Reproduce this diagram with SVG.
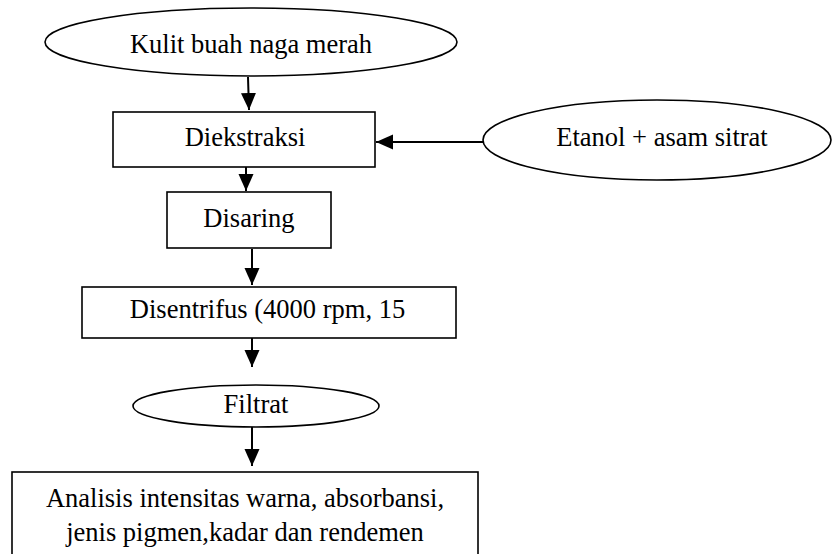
<svg xmlns="http://www.w3.org/2000/svg" width="832" height="554" viewBox="0 0 832 554">
<style>
.shape{fill:#fff;stroke:#000;stroke-width:1.6}
.t{font-family:"Liberation Serif","Times New Roman",serif;font-size:26.5px;fill:#000;text-anchor:middle}
.c{stroke:#000;stroke-width:2;fill:none}
</style>
<defs>
<marker id="ah" markerUnits="userSpaceOnUse" markerWidth="18" markerHeight="16" refX="17" refY="7.5" orient="auto">
<path d="M0,0 L17,7.5 L0,15 Z" fill="#000"/>
</marker>
</defs>
<rect width="832" height="554" fill="#fff"/>
<g id="connectors">
<line class="c" x1="248" y1="77" x2="249" y2="110" marker-end="url(#ah)"/>
<line class="c" x1="246" y1="167" x2="246" y2="191" marker-end="url(#ah)"/>
<line class="c" x1="252" y1="249" x2="252" y2="285" marker-end="url(#ah)"/>
<line class="c" x1="252" y1="338" x2="252" y2="367" marker-end="url(#ah)"/>
<line class="c" x1="252" y1="427" x2="252" y2="466" marker-end="url(#ah)"/>
<line class="c" x1="483" y1="142" x2="376" y2="142" marker-end="url(#ah)"/>
</g>
<g id="n1">
<ellipse class="shape" cx="251" cy="42" rx="206" ry="34"/>
<text class="t" x="251" y="53">Kulit buah naga merah</text>
</g>
<g id="n2">
<rect class="shape" x="113" y="112" width="262" height="55"/>
<text class="t" x="245" y="146">Diekstraksi</text>
</g>
<g id="n3">
<ellipse class="shape" cx="657" cy="140" rx="174" ry="40"/>
<text class="t" x="662" y="146">Etanol + asam sitrat</text>
</g>
<g id="n4">
<rect class="shape" x="167" y="192" width="164" height="56"/>
<text class="t" x="249" y="227">Disaring</text>
</g>
<g id="n5">
<rect class="shape" x="82" y="287" width="374" height="51"/>
<text class="t" x="267.5" y="318">Disentrifus (4000 rpm, 15</text>
</g>
<g id="n6">
<ellipse class="shape" cx="256" cy="406" rx="123" ry="21"/>
<text class="t" x="256" y="413">Filtrat</text>
</g>
<g id="n7">
<rect class="shape" x="12" y="472" width="466" height="90"/>
<text class="t" x="245" y="507">Analisis intensitas warna, absorbansi,</text>
<text class="t" x="245" y="541">jenis pigmen,kadar dan rendemen</text>
</g>
</svg>
